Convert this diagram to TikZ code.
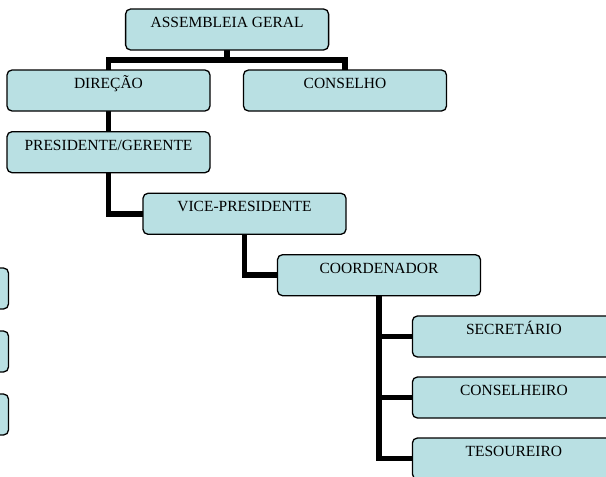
\documentclass[tikz,border=0pt]{standalone}
\usepackage{fontspec}
\setmainfont{Liberation Serif}
\usetikzlibrary{backgrounds}
\definecolor{boxfill}{RGB}{185,224,227}
\tikzset{
  orgbox/.style={draw=black, fill=boxfill, line width=1.3pt, rounded corners=5pt,
    anchor=north west, inner xsep=0pt, inner ysep=0pt, outer sep=0pt,
    minimum width=203pt, text height=18.5pt, text depth=22.5pt,
    font=\fontsize{15.5}{18}\selectfont},
  conn/.style={draw=black, line width=5.5pt}
}
\begin{document}
\begin{tikzpicture}[x=1pt, y=-1pt]
  \useasboundingbox (0,0) rectangle (606,477);
  \clip (0,0) rectangle (606,477);

  % boxes of the chart
  \node[orgbox] (ag)    at (125.6,9)     {ASSEMBLEIA GERAL};
  \node[orgbox] (dir)   at (7,70)        {DIREÇÃO};
  \node[orgbox] (con)   at (243.5,70)    {CONSELHO};
  \node[orgbox] (pres)  at (7,131.7)     {PRESIDENTE/GERENTE};
  \node[orgbox] (vice)  at (143,193.3)   {VICE-PRESIDENTE};
  \node[orgbox] (coord) at (277.5,254.7) {COORDENADOR};
  \node[orgbox] (sec)   at (412.4,316)   {SECRETÁRIO};
  \node[orgbox] (cons)  at (412.4,377)   {CONSELHEIRO};
  \node[orgbox] (tes)   at (412.4,438)   {TESOUREIRO};

  % boxes running off the left edge
  \node[orgbox] (l1) at (-194.5,268) {};
  \node[orgbox] (l2) at (-194.5,331) {};
  \node[orgbox] (l3) at (-194.5,394) {};

  % connectors, drawn behind the boxes
  \begin{scope}[on background layer]
    \coordinate (split) at (ag.south |- 0,60);
    \draw[conn] (ag.south) -- (split) -| (dir.north);
    \draw[conn] (split) -| (con.north);
    \draw[conn] (dir.south) -- (pres.north);
    \draw[conn] (pres.south) |- (vice.west);
    \draw[conn] (vice.south) |- (coord.west);
    \draw[conn] (coord.south) |- (sec.west);
    \draw[conn] (coord.south) |- (cons.west);
    \draw[conn] (coord.south) |- (tes.west);
  \end{scope}
\end{tikzpicture}
\end{document}
